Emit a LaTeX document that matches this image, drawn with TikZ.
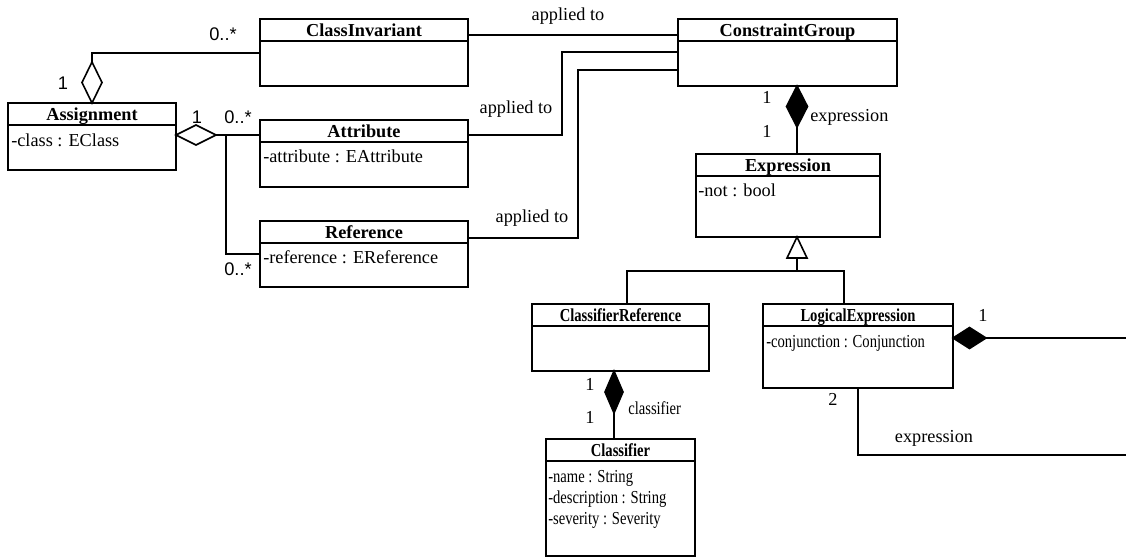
\documentclass[tikz,border=0pt]{standalone}
\usepackage{fontspec}
\setmainfont{Liberation Serif}
\newfontfamily\labelsans{Liberation Sans}
\newfontfamily\narrowserif{Liberation Serif}[FakeStretch=0.8]
\usetikzlibrary{calc}

\newcommand\umlsize{\fontsize{13.7}{16}\selectfont}

\tikzset{
  uml/.style={line width=1.2pt, line join=miter},
  classbox/.style={draw, rectangle, line width=1.2pt, inner sep=0pt, outer sep=0pt, anchor=north west},
  clsname/.style={font=\umlsize\bfseries, anchor=base, inner sep=0pt},
  clsnarrow/.style={font=\umlsize\narrowserif\bfseries, anchor=base, inner sep=0pt},
  attr/.style={font=\umlsize, anchor=base west, inner sep=0pt},
  attrnarrow/.style={font=\umlsize\narrowserif, anchor=base west, inner sep=0pt},
  lbl/.style={font=\umlsize, anchor=base, inner sep=0pt},
  lblsans/.style={font=\umlsize\labelsans, anchor=base, inner sep=0pt},
}

% class box: name, left, top, right, bottom (pixel units, y downwards)
\newcommand\umlclass[5]{%
  \pgfmathsetmacro\bw{(#4-#2)*0.75}%
  \pgfmathsetmacro\bh{(#5-#3)*0.75}%
  \node[classbox, minimum width=\bw pt, minimum height=\bh pt] (#1) at (#2,#3) {};
  \draw[uml] ($(#1.north west)+(0,22)$) -- ($(#1.north east)+(0,22)$);
}

\begin{document}
\begin{tikzpicture}[x=0.75pt,y=-0.75pt]
\useasboundingbox (0,0) rectangle (1126,558);

% ---- classes ----
\umlclass{ci}{260}{19}{468}{86}
\umlclass{asg}{8}{103}{176}{170}
\umlclass{att}{260}{120}{468}{187}
\umlclass{ref}{260}{221}{468}{287}
\umlclass{cg}{678}{19}{897}{86}
\umlclass{expr}{696}{154}{880}{237}
\umlclass{cr}{532}{304}{709}{371}
\umlclass{le}{763}{304}{953}{388}
\umlclass{cl}{546}{439}{695}{556}

\node[clsname] (ci-n)   at ($(ci.north)+(0,17)$)   {ClassInvariant};
\node[clsname] (asg-n)  at ($(asg.north)+(0,17)$)  {Assignment};
\node[clsname] (att-n)  at ($(att.north)+(0,17)$)  {Attribute};
\node[clsname] (ref-n)  at ($(ref.north)+(0,17)$)  {Reference};
\node[clsname] (cg-n)   at ($(cg.north)+(0,17)$)   {ConstraintGroup};
\node[clsname] (expr-n) at ($(expr.north)+(0,17)$) {Expression};
\node[clsnarrow] (cr-n) at ($(cr.north)+(0,17)$)   {ClassifierReference};
\node[clsnarrow] (le-n) at ($(le.north)+(0,17)$)   {LogicalExpression};
\node[clsnarrow] (cl-n) at ($(cl.north)+(0,17)$)   {Classifier};

\node[attr] (asg-a)  at ($(asg.north west)+(3,43)$)  {-class : EClass};
\node[attr] (att-a)  at ($(att.north west)+(3,42)$)  {-attribute : EAttribute};
\node[attr] (ref-a)  at ($(ref.north west)+(3,42)$)  {-reference : EReference};
\node[attr] (expr-a) at ($(expr.north west)+(2,42)$) {-not : bool};
\node[attrnarrow] (le-a)  at ($(le.north west)+(3,43)$) {-conjunction : Conjunction};
\node[attrnarrow] (cl-a1) at ($(cl.north west)+(2,43)$) {-name : String};
\node[attrnarrow] (cl-a2) at ($(cl.north west)+(2,64)$) {-description : String};
\node[attrnarrow] (cl-a3) at ($(cl.north west)+(2,85)$) {-severity : Severity};

% ---- Assignment aggregates ClassInvariant ----
\draw[uml, fill=white] (asg.north) -- ++(-10,-20.5) -- ++(10,-20.5) -- ++(10,20.5) -- cycle;
\coordinate (ag1t) at ($(asg.north)+(0,-41)$);
\draw[uml] (ag1t) |- ($(ci.north west)+(0,34)$);
\node[lblsans] (m1) at (223,40) {0..*};
\node[lblsans] (m2) at (63,89) {1};

% ---- Assignment aggregates Attribute / Reference ----
\coordinate (ag2) at ($(asg.north east)+(0,32)$);
\draw[uml, fill=white] (ag2) -- ++(20,-10) -- ++(20,10) -- ++(-20,10) -- cycle;
\coordinate (ag2t) at ($(ag2)+(40,0)$);
\draw[uml] (ag2t) -- ($(att.north west)+(0,15)$);
\coordinate (fork) at ($(ag2t)+(10,0)$);
\draw[uml] (fork) |- ($(ref.north west)+(0,33)$);
\node[lblsans] (m3) at (197,123) {1};
\node[lblsans] (m4) at (238,123) {0..*};
\node[lblsans] (m5) at (238,275) {0..*};

% ---- "applied to" associations ----
\draw[uml] ($(ci.north east)+(0,16)$) -- ($(cg.north west)+(0,16)$);
\draw[uml] ($(att.north east)+(0,15)$) -| ($(cg.north west)+(-116,33)$) -- ($(cg.north west)+(0,33)$);
\draw[uml] ($(ref.north east)+(0,17)$) -| ($(cg.north west)+(-100,51)$) -- ($(cg.north west)+(0,51)$);
\node[lbl] (ap1) at (568,20)  {applied to};
\node[lbl] (ap2) at (516,113) {applied to};
\node[lbl] (ap3) at (532,222) {applied to};

% ---- ConstraintGroup composes Expression ----
\coordinate (cd1) at ($(cg.south)+(9.5,0)$);
\draw[uml, fill=black] (cd1) -- ++(10.5,20.5) -- ++(-10.5,20.5) -- ++(-10.5,-20.5) -- cycle;
\draw[uml] ($(cd1)+(0,41)$) -- (expr.north -| cd1);
\node[lbl] (c1a) at (767,103) {1};
\node[lbl] (c1b) at (767,137) {1};
\node[lbl, anchor=base west] (c1r) at (810,121) {expression};

% ---- generalization of Expression ----
\coordinate (gt) at (expr.south -| cd1);
\draw[uml, fill=white] (gt) -- ++(10,21) -- ++(-20,0) -- cycle;
\coordinate (gb) at ($(gt)+(0,21)$);
\coordinate (gj) at ($(gb)+(0,13)$);
\draw[uml] (gb) -- (gj);
\draw[uml] ($(cr.north)+(6.5,0)$) |- (gj);
\draw[uml] ($(le.north)+(-14,0)$) |- (gj);

% ---- ClassifierReference composes Classifier ----
\coordinate (cd2) at ($(cr.south)+(-6.5,0)$);
\draw[uml, fill=black] (cd2) -- ++(9,21) -- ++(-9,21) -- ++(-9,-21) -- cycle;
\draw[uml] ($(cd2)+(0,42)$) -- (cl.north -| cd2);
\node[lbl] (c2a) at (590,390) {1};
\node[lbl] (c2b) at (590,423) {1};
\node[lbl, font=\umlsize\narrowserif, anchor=base west] (c2r) at (628,414) {classifier};

% ---- LogicalExpression composes Expression ----
\coordinate (cd3) at ($(le.north east)+(0,34)$);
\draw[uml, fill=black] (cd3) -- ++(16.5,-10.5) -- ++(16.5,10.5) -- ++(-16.5,10.5) -- cycle;
\coordinate (rim1) at (1126,338);
\coordinate (rim2) at (1126,455);
\draw[uml] ($(cd3)+(33,0)$) -- (rim1);
\draw[uml] (le.south) |- (rim2);
\node[lbl] (c3a) at (983,321) {1};
\node[lbl] (c3b) at (833,405) {2};
\node[lbl] (c3r) at (934,442) {expression};

\end{tikzpicture}
\end{document}
